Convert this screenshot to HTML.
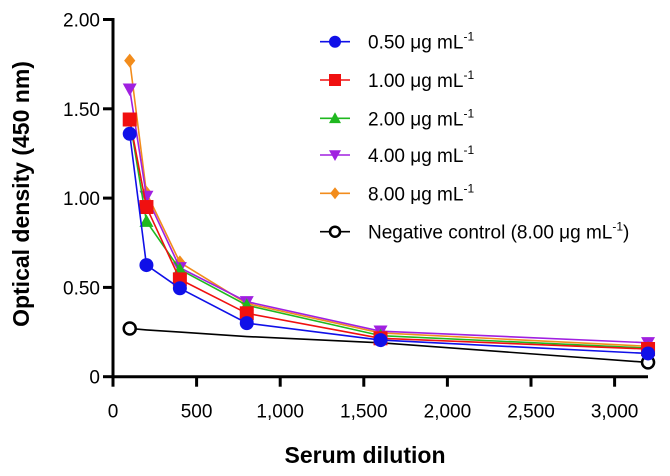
<!DOCTYPE html>
<html><head><meta charset="utf-8"><style>
html,body{margin:0;padding:0;background:#fff;}
svg{display:block;font-family:"Liberation Sans",Arial,sans-serif;}
</style></head><body>
<svg id="chart" width="670" height="476" viewBox="0 0 670 476">
<g id="axes"></g>
<g id="series"></g>
<g id="legend"></g>
<text x="365" y="463" text-anchor="middle" font-size="23" font-weight="bold">Serum dilution</text>
<text transform="translate(29,194) rotate(-90)" text-anchor="middle" font-size="23" font-weight="bold">Optical density (450 nm)</text>
</svg>
<script>
const dilutions = [100, 200, 400, 800, 1600, 3200];
const s050 = [1.36, 0.625, 0.495, 0.30, 0.205, 0.13];
const s100 = [1.44, 0.95, 0.545, 0.355, 0.215, 0.155];
const s200 = [1.44, 0.87, 0.60, 0.40, 0.23, 0.16];
const s400 = [1.61, 1.01, 0.61, 0.42, 0.255, 0.19];
const s800 = [1.77, 1.03, 0.64, 0.41, 0.245, 0.17];
const sNeg = [0.27, 0.262, 0.25, 0.225, 0.19, 0.08];
const seriesLabels = ["0.50 μg mL", "1.00 μg mL", "2.00 μg mL", "4.00 μg mL", "8.00 μg mL", "Negative control (8.00 μg mL"];
const xTicks = [0, 500, 1000, 1500, 2000, 2500, 3000];
const xTickLabels = ["0", "500", "1,000", "1,500", "2,000", "2,500", "3,000"];
const yTicks = [0, 0.5, 1.0, 1.5, 2.0];
const yTickLabels = ["0", "0.50", "1.00", "1.50", "2.00"];

const NS = "http://www.w3.org/2000/svg";
const X0 = 113, XS = 83.6 / 500, Y0 = 376.7, YS = 178.6;
const xp = v => X0 + v * XS;
const yp = v => Y0 - v * YS;
function mk(tag, attrs, parent) {
  const e = document.createElementNS(NS, tag);
  for (const k in attrs) e.setAttribute(k, attrs[k]);
  parent.appendChild(e);
  return e;
}
const axes = document.getElementById('axes');
let el = mk('line', {x1: X0, y1: Y0, x2: 648, y2: Y0, stroke: '#000', 'stroke-width': 3}, axes);


el = mk('line', {x1: X0, y1: yp(2) - 1.5, x2: X0, y2: Y0 + 1.5, stroke: '#000', 'stroke-width': 3}, axes);


xTicks.forEach((t, i) => {
  const tk = mk('line', {x1: xp(t), y1: Y0, x2: xp(t), y2: Y0 + 10, stroke: '#000', 'stroke-width': 3}, axes);
  
  
  const tx = mk('text', {x: xp(t), y: Y0 + 41, 'text-anchor': 'middle', 'font-size': 19}, axes);
  tx.textContent = xTickLabels[i];
  
  
});
yTicks.forEach((t, i) => {
  const tk = mk('line', {x1: X0 - 10, y1: yp(t), x2: X0, y2: yp(t), stroke: '#000', 'stroke-width': 3}, axes);
  
  
  const tx = mk('text', {x: X0 - 13, y: yp(t) + 7, 'text-anchor': 'end', 'font-size': 19}, axes);
  tx.textContent = yTickLabels[i];
  
  
});

function marker(type, x, y, color, parent, sz) {
  let m;
  const r = sz || 7;
  if (type === 'circle') m = mk('circle', {cx: x, cy: y, r: r, fill: color}, parent);
  else if (type === 'square') m = mk('rect', {x: x - r, y: y - r, width: 2 * r, height: 2 * r, fill: color}, parent);
  else if (type === 'up') m = mk('polygon', {points: `${x},${y - r} ${x - r},${y + r * 0.8} ${x + r},${y + r * 0.8}`, fill: color}, parent);
  else if (type === 'down') m = mk('polygon', {points: `${x},${y + r} ${x - r},${y - r * 0.8} ${x + r},${y - r * 0.8}`, fill: color}, parent);
  else if (type === 'diamond') m = mk('polygon', {points: `${x},${y - r} ${x + r * 0.8},${y} ${x},${y + r} ${x - r * 0.8},${y}`, fill: color}, parent);
  else m = mk('circle', {cx: x, cy: y, r: r - 1, fill: '#fff', stroke: color, 'stroke-width': 2.5}, parent);
  return m;
}
const series = [
  {d: sNeg, c: '#000', m: 'open', n: 'series-negative-control'},
  {d: s800, c: '#f28c1c', m: 'diamond', n: 'series-8-00'},
  {d: s400, c: '#a020e0', m: 'down', n: 'series-4-00'},
  {d: s200, c: '#1fb81f', m: 'up', n: 'series-2-00'},
  {d: s100, c: '#f01010', m: 'square', n: 'series-1-00'},
  {d: s050, c: '#1010e8', m: 'circle', n: 'series-0-50'}
];
const sg = document.getElementById('series');
series.forEach(s => {
  const g = mk('g', {}, sg);
  
  
  const pts = s.d.map((v, i) => xp(dilutions[i]) + ',' + yp(v)).join(' ');
  const pl = mk('polyline', {points: pts, fill: 'none', stroke: s.c, 'stroke-width': 1.6}, g);
  
  
  s.d.forEach((v, i) => {
    if (s.m === 'open' && i > 0 && i < s.d.length - 1) return;
    const m = marker(s.m, xp(dilutions[i]), yp(v), s.c, g);
    
    
  });
});
const lg = document.getElementById('legend');
const legendOrder = [
  {c: '#1010e8', m: 'circle'}, {c: '#f01010', m: 'square'}, {c: '#1fb81f', m: 'up'},
  {c: '#a020e0', m: 'down'}, {c: '#f28c1c', m: 'diamond'}, {c: '#000', m: 'open'}
];
const legendY = [41.7, 80, 118.3, 155, 193.3, 231.7];
legendOrder.forEach((s, i) => {
  const g = mk('g', {}, lg);
  
  
  const y = legendY[i];
  mk('line', {x1: 320, y1: y, x2: 350, y2: y, stroke: s.c, 'stroke-width': 1.6}, g);
  marker(s.m, 335, y, s.c, g, 6);
  const t = mk('text', {x: 368, y: y + 7, 'font-size': 19}, g);
  t.textContent = seriesLabels[i];
  const sup = mk('tspan', {'font-size': 12, dy: -8}, t);
  sup.textContent = '-1';
  if (i === 5) {
    const cl = mk('tspan', {'font-size': 19, dy: 8}, t);
    cl.textContent = ')';
  }
});
</script>
</body></html>
